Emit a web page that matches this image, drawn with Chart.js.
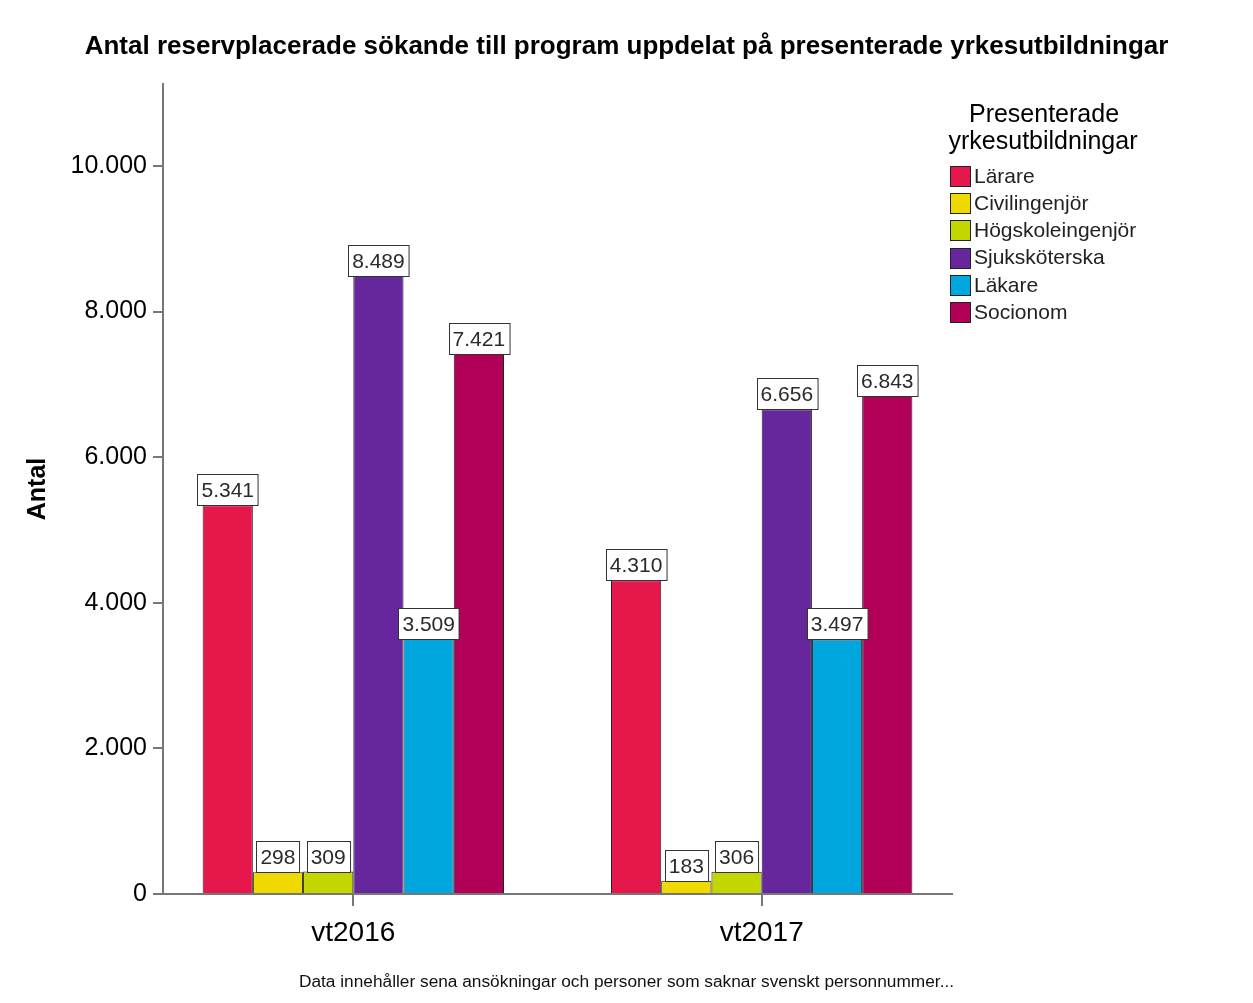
<!DOCTYPE html>
<html>
<head>
<meta charset="utf-8">
<script src="https://cdn.jsdelivr.net/npm/chart.js@4.4.0/dist/chart.umd.min.js"></script>
<style>
  html, body { margin: 0; padding: 0; background: #ffffff; }
  #wrap { position: relative; width: 1253px; height: 1003px; }
</style>
</head>
<body>
<div id="wrap"><canvas id="c" width="1253" height="1003"></canvas></div>
<script>
// ---- Data ----
const chartTitle = 'Antal reservplacerade sökande till program uppdelat på presenterade yrkesutbildningar';
const footnote = 'Data innehåller sena ansökningar och personer som saknar svenskt personnummer...';
const yAxisTitle = 'Antal';
const legendTitle = ['Presenterade', 'yrkesutbildningar'];
const categories = ['vt2016', 'vt2017'];
const seriesNames = ['Lärare', 'Civilingenjör', 'Högskoleingenjör', 'Sjuksköterska', 'Läkare', 'Socionom'];
const larare = [5341, 4310];
const civilingenjor = [298, 183];
const hogskoleingenjor = [309, 306];
const sjukskoterska = [8489, 6656];
const lakare = [3509, 3497];
const socionom = [7421, 6843];
const yTicks = [0, 2000, 4000, 6000, 8000, 10000];
const seriesColors = ['#E6174B', '#EFD900', '#C4D600', '#65279B', '#00A7DF', '#B20058'];

const seriesValues = [larare, civilingenjor, hogskoleingenjor, sjukskoterska, lakare, socionom];

function fmt(v) {
  return String(v).replace(/\B(?=(\d{3})+(?!\d))/g, '.');
}

const datasets = seriesNames.map((name, i) => ({
  label: name,
  data: seriesValues[i].map((v, j) => ({ x: j, y: v })),
  backgroundColor: seriesColors[i],
  borderColor: '#222222',
  borderWidth: 1,
  borderSkipped: 'bottom',
  categoryPercentage: 0.738,
  barPercentage: 1.0
}));

const FONT = '"Liberation Sans", Arial, sans-serif';

const labelPlugin = {
  id: 'valueBoxes',
  afterDatasetsDraw(chart) {
    const ctx = chart.ctx;
    ctx.save();
    ctx.font = '21px ' + FONT;
    ctx.textAlign = 'center';
    ctx.textBaseline = 'middle';
    chart.data.datasets.forEach((ds, di) => {
      const meta = chart.getDatasetMeta(di);
      meta.data.forEach((bar, idx) => {
        const txt = fmt(seriesValues[di][idx]);
        const w = ctx.measureText(txt).width + 8;
        const h = 31;
        const x = Math.round(bar.x - w / 2) + 0.5;
        const y = Math.round(bar.y - h) + 0.5;
        ctx.fillStyle = '#ffffff';
        ctx.fillRect(x, y, w, h);
        ctx.strokeStyle = '#333333';
        ctx.lineWidth = 1;
        ctx.strokeRect(x, y, w, h);
        ctx.fillStyle = '#2a2a2a';
        ctx.fillText(txt, bar.x, y + h / 2 + 1);
      });
    });
    ctx.restore();
  }
};

const decorPlugin = {
  id: 'decor',
  afterDraw(chart) {
    const ctx = chart.ctx;
    const W = chart.width;
    ctx.save();
    // Title
    ctx.fillStyle = '#000000';
    ctx.textAlign = 'center';
    ctx.textBaseline = 'middle';
    ctx.font = 'bold 26px ' + FONT;
    ctx.fillText(chartTitle, W / 2, 47);
    // Footnote
    ctx.font = '17.3px ' + FONT;
    ctx.fillStyle = '#111111';
    ctx.fillText(footnote, W / 2, 982);
    // Legend
    ctx.fillStyle = '#000000';
    ctx.font = '25px ' + FONT;
    ctx.fillText(legendTitle[0], 1044, 115);
    ctx.fillText(legendTitle[1], 1043, 142);
    ctx.textAlign = 'left';
    ctx.font = '21px ' + FONT;
    seriesNames.forEach((name, i) => {
      const cy = 176 + i * 27.2;
      ctx.fillStyle = seriesColors[i];
      ctx.fillRect(950.5, Math.round(cy - 10) + 0.5, 20, 20);
      ctx.strokeStyle = '#222222';
      ctx.lineWidth = 1;
      ctx.strokeRect(950.5, Math.round(cy - 10) + 0.5, 20, 20);
      ctx.fillStyle = '#222222';
      ctx.fillText(name, 974, cy + 1);
    });
    ctx.restore();
  }
};

new Chart(document.getElementById('c'), {
  type: 'bar',
  data: { datasets },
  options: {
    responsive: false,
    animation: false,
    layout: { padding: { top: 84, right: 301, left: 0, bottom: 0 } },
    plugins: {
      legend: { display: false },
      title: { display: false },
      tooltip: { enabled: false }
    },
    scales: {
      x: {
        type: 'linear',
        offset: false,
        min: -0.466,
        max: 1.466,
        afterBuildTicks(scale) { scale.ticks = categories.map((c, i) => ({ value: i })); },
        afterFit(scale) { scale.height = 1003 - 894; },
        ticks: {
          callback: (v) => categories[v],
          color: '#000000',
          font: { family: FONT, size: 28 },
          padding: 10,
          maxRotation: 0,
          autoSkip: false
        },
        grid: { offset: false, drawOnChartArea: false, drawTicks: true, tickLength: 12, color: '#777777', lineWidth: 2 },
        border: { display: true, color: '#777777', width: 2 }
      },
      y: {
        min: 0,
        max: 11125,
        afterBuildTicks(scale) { scale.ticks = yTicks.map(v => ({ value: v })); },
        afterFit(scale) { scale.width = 163; },
        ticks: {
          callback: (v) => fmt(v),
          color: '#000000',
          font: { family: FONT, size: 25 },
          padding: 6
        },
        grid: { drawOnChartArea: false, drawTicks: true, tickLength: 10, color: '#777777', lineWidth: 2 },
        border: { display: true, color: '#777777', width: 2 },
        title: {
          display: true,
          text: yAxisTitle,
          color: '#000000',
          font: { family: FONT, size: 25, weight: 'bold' },
          padding: { top: 23, bottom: 0 }
        }
      }
    }
  },
  plugins: [labelPlugin, decorPlugin]
});
</script>
</body>
</html>
